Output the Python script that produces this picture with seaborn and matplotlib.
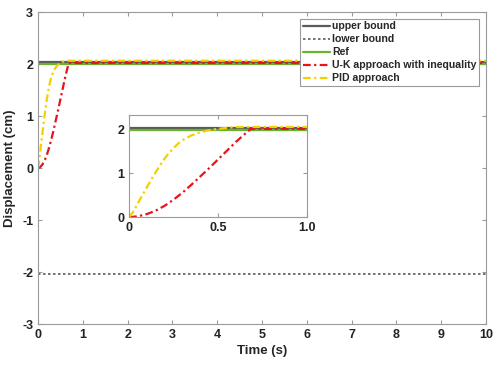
import numpy as np
import pandas as pd
import seaborn as sns
import matplotlib.pyplot as plt

# values
upper_bound = 2.03
lower_bound = -2.03
ref_value = 2.0

t_uk = [0, 0.05, 0.1, 0.15, 0.2, 0.25, 0.3, 0.35, 0.4, 0.45, 0.5, 0.55, 0.6,
        0.65, 0.685, 1.0, 10.0]
y_uk = [0, 0.02, 0.07, 0.15, 0.26, 0.40, 0.56, 0.74, 0.93, 1.12, 1.32, 1.52,
        1.72, 1.90, 2.02, 2.02, 2.02]

t_pid = [0, 0.025, 0.05, 0.075, 0.1, 0.125, 0.15, 0.175, 0.2, 0.225, 0.25,
         0.275, 0.3, 0.35, 0.4, 0.45, 0.5, 0.55, 0.6, 0.7, 1.0, 10.0]
y_pid = [0, 0.13, 0.32, 0.50, 0.68, 0.86, 1.03, 1.19, 1.34, 1.47, 1.58,
         1.68, 1.76, 1.87, 1.94, 1.99, 2.02, 2.045, 2.06, 2.065, 2.065, 2.065]

labels = ["upper bound", "lower bound", "Ref", "U-K approach with inequality", "PID approach"]

sns.set_theme(style="ticks")
plt.rcParams['font.family'] = ['Liberation Sans', 'DejaVu Sans']
plt.rcParams['font.weight'] = 'bold'
plt.rcParams['axes.unicode_minus'] = False
plt.rcParams['xtick.direction'] = 'in'
plt.rcParams['ytick.direction'] = 'in'

edge = '#9a9a9a'
c_bound = '#5a5a5a'
c_ref = '#6ab42d'
c_uk = '#e8141b'
c_pid = '#f5d000'
dashdot = (0, (3.5, 1.5, 1, 1.5))

df_uk = pd.DataFrame({'t': t_uk, 'y': y_uk})
df_pid = pd.DataFrame({'t': t_pid, 'y': y_pid})


def draw_curves(ax, xmax):
    ax.axhline(upper_bound, color=c_bound, lw=1.6, label=labels[0])
    ax.axhline(lower_bound, color=c_bound, lw=1.2, ls=(0, (1.5, 1.5)), label=labels[1])
    ax.axhline(ref_value, color=c_ref, lw=1.6, label=labels[2])
    sns.lineplot(data=df_uk, x='t', y='y', ax=ax, color=c_uk, lw=1.6,
                 linestyle=dashdot, label=labels[3])
    sns.lineplot(data=df_pid, x='t', y='y', ax=ax, color=c_pid, lw=1.6,
                 linestyle=dashdot, label=labels[4])
    ax.set_xlim(0, xmax)


def style_box(ax):
    for s in ax.spines.values():
        s.set_color(edge)
        s.set_linewidth(0.8)
        s.set_visible(True)
    ax.tick_params(colors=edge, labelcolor='#222222', length=3, width=0.8,
                   top=True, right=True, labelsize=9)
    for lab in ax.get_xticklabels() + ax.get_yticklabels():
        lab.set_fontweight('bold')


fig = plt.figure(figsize=(5, 3.65), dpi=100)
ax = fig.add_axes([0.076, 0.112, 0.896, 0.855])
draw_curves(ax, 10)
ax.set_ylim(-3, 3)
ax.set_xticks(range(0, 11))
ax.set_yticks(range(-3, 4))
ax.set_xlabel('Time (s)', fontsize=9.5, fontweight='bold', labelpad=3)
ax.set_ylabel('Displacement (cm)', fontsize=9.5, fontweight='bold', labelpad=4)
style_box(ax)
leg = ax.legend(loc='upper right', bbox_to_anchor=(0.99, 0.985), fontsize=7.6,
                fancybox=False, framealpha=1, edgecolor=edge, borderpad=0.25,
                labelspacing=0.28, handlelength=2.6, handletextpad=0.2,
                borderaxespad=0.2)
leg.get_frame().set_linewidth(0.8)
for txt in leg.get_texts():
    txt.set_fontweight('bold')

ins = fig.add_axes([0.258, 0.405, 0.356, 0.279])
draw_curves(ins, 1.0)
ins.set_ylim(0, 2.33)
ins.set_xticks([0, 0.5, 1.0])
ins.set_xticklabels(['0', '0.5', '1.0'])
ins.set_yticks([0, 1, 2])
ins.set_xlabel('')
ins.set_ylabel('')
ins.get_legend().remove()
style_box(ins)

fig.savefig('out.png', dpi=100)
